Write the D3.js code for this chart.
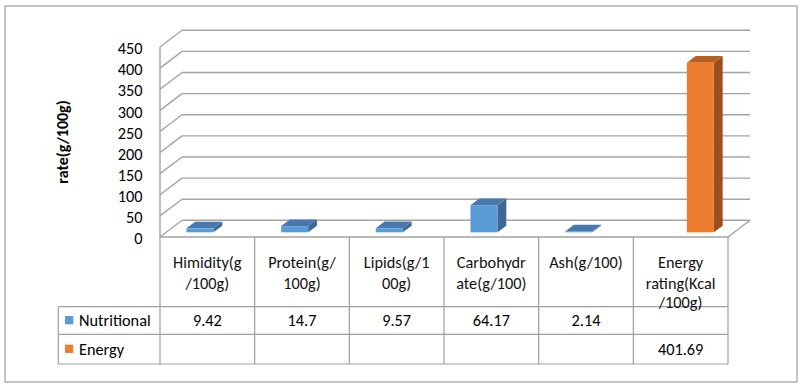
<!DOCTYPE html>
<html>
<head>
<meta charset="utf-8">
<script src="https://cdn.jsdelivr.net/npm/d3@7"></script>
<style>
  body { margin: 0; background: #fff; }
  svg { display: block; font-family: Carlito, Calibri, Lato, sans-serif; }
</style>
</head>
<body>
<svg id="chart"></svg>
<script>
// values
const categories = ["Himidity", "Protein", "Lipids", "Carbohydrate", "Ash", "Energy rating"];
const headerLines = [
    ["Himidity(g", "/100g)"],
    ["Protein(g/", "100g)"],
    ["Lipids(g/1", "00g)"],
    ["Carbohydr", "ate(g/100)"],
    ["Ash(g/100)"],
    ["Energy", "rating(Kcal", "/100g)"]
];
const seriesNames = ["Nutritional", "Energy"];
const nutritional = [9.42, 14.7, 9.57, 64.17, 2.14, null];
const energy = [null, null, null, null, null, 401.69];
const valueLabels = [
    ["9.42", "14.7", "9.57", "64.17", "2.14", ""],
    ["", "", "", "", "", "401.69"]
];
const yMax = 450;

const width = 802, height = 387;
const svg = d3.select("#chart").attr("width", width).attr("height", height);

const plot = { left: 160, right: 728, top: 47, bottom: 237 };
const depth = { dx: 22, dy: -16.7 };
const table = { left: 58.3, headerBottom: 306.7, row1: 334.3, bottom: 364 };
const fontSize = "16.3px";

const colors = [
    { front: "#5B9BD5", top: "#4878AE", side: "#3D6894" },
    { front: "#ED7D31", top: "#B95F22", side: "#9B501E" }
];
const gridColor = "#A3A3A3";
const lineColor = "#A0A0A0";

const x = d3.scaleBand().domain(categories).range([plot.left, plot.right]).padding(0);
const y = d3.scaleLinear().domain([0, yMax]).range([plot.bottom, plot.top]);
const ticks = y.ticks(10);

// outer border
svg.append("rect")
    .attr("x", 5).attr("y", 6).attr("width", 792).attr("height", 376)
    .attr("fill", "#fff").attr("stroke", "#8A8A8A").attr("stroke-width", 1);

const walls = svg.append("g").attr("fill", "none").attr("stroke", gridColor).attr("stroke-width", 1.4);

// back wall gridlines
walls.selectAll(".grid")
    .data(ticks)
    .join("line")
    .attr("x1", plot.left + depth.dx).attr("x2", plot.right + depth.dx)
    .attr("y1", d => y(d) + depth.dy).attr("y2", d => y(d) + depth.dy);

// side wall diagonals
walls.selectAll(".diag")
    .data(ticks)
    .join("line")
    .attr("x1", plot.left).attr("x2", plot.left + depth.dx)
    .attr("y1", d => y(d)).attr("y2", d => y(d) + depth.dy);

walls.append("line")
    .attr("x1", plot.left).attr("x2", plot.left)
    .attr("y1", y(yMax)).attr("y2", y(0));

// floor front + right edge
walls.append("path")
    .attr("d", `M${plot.left},${y(0)}H${plot.right}L${plot.right + depth.dx},${y(0) + depth.dy}`);

// y tick labels
svg.append("g").selectAll("text")
    .data(ticks)
    .join("text")
    .attr("x", 142.5)
    .attr("y", d => y(d) + 1.5)
    .attr("dy", "0.35em")
    .attr("text-anchor", "end")
    .attr("font-size", fontSize)
    .attr("fill", "#000")
    .text(d => d);

// y axis title
svg.append("text")
    .attr("transform", "translate(68,142) rotate(-90)")
    .attr("text-anchor", "middle")
    .attr("font-size", "16px")
    .attr("font-weight", "bold")
    .attr("fill", "#000")
    .text("rate(g/100g)");

// 3d bars
const bw = x.bandwidth() / 3.5;
const f0 = 0.28, f1 = 0.68;
const bars = [];
[nutritional, energy].forEach((vals, si) => {
    vals.forEach((v, i) => {
        if (v == null) return;
        bars.push({ si, cat: categories[i], v });
    });
});

function pts(arr) { return arr.map(p => p.join(",")).join(" "); }

const barG = svg.append("g");
bars.forEach(d => {
    const x0 = x(d.cat) + 0.75 * bw + d.si * bw, x1 = x0 + bw;
    const yb = y(0), yt = y(d.v);
    const c = colors[d.si];
    const g = barG.append("g");
    g.append("polygon")
        .attr("points", pts([[x1 + f0 * depth.dx, yt + f0 * depth.dy], [x1 + f1 * depth.dx, yt + f1 * depth.dy],
            [x1 + f1 * depth.dx, yb + f1 * depth.dy], [x1 + f0 * depth.dx, yb + f0 * depth.dy]]))
        .attr("fill", c.side);
    g.append("polygon")
        .attr("points", pts([[x0 + f0 * depth.dx, yt + f0 * depth.dy], [x1 + f0 * depth.dx, yt + f0 * depth.dy],
            [x1 + f1 * depth.dx, yt + f1 * depth.dy], [x0 + f1 * depth.dx, yt + f1 * depth.dy]]))
        .attr("fill", c.top);
    g.append("rect")
        .attr("x", x0 + f0 * depth.dx)
        .attr("y", yt + f0 * depth.dy)
        .attr("width", bw)
        .attr("height", Math.max(yb - yt, 0.8))
        .attr("fill", c.front);
});

// data table
const tg = svg.append("g").attr("stroke", lineColor).attr("stroke-width", 1.2).attr("fill", "none");
const colEdges = categories.map(c => x(c)).concat([plot.right]);
tg.selectAll(".v")
    .data(colEdges)
    .join("line")
    .attr("x1", d => d).attr("x2", d => d)
    .attr("y1", plot.bottom).attr("y2", table.bottom);
tg.append("line")
    .attr("x1", table.left).attr("x2", table.left)
    .attr("y1", table.headerBottom).attr("y2", table.bottom);
tg.selectAll(".h")
    .data([table.headerBottom, table.row1, table.bottom])
    .join("line")
    .attr("x1", table.left).attr("x2", plot.right)
    .attr("y1", d => d).attr("y2", d => d);

// header labels
const header = svg.append("g").attr("font-size", fontSize).attr("fill", "#111").attr("text-anchor", "middle");
headerLines.forEach((lines, i) => {
    const cx = x(categories[i]) + x.bandwidth() / 2;
    lines.forEach((t, j) => {
        header.append("text")
            .attr("x", cx)
            .attr("y", 262 + j * (j < 2 ? 21.6 : 20.3))
            .attr("dy", "0.35em")
            .text(t);
    });
});

// value rows
const rowY = [(table.headerBottom + table.row1) / 2, (table.row1 + table.bottom) / 2];
valueLabels.forEach((row, si) => {
    svg.append("g").selectAll("text")
        .data(row)
        .join("text")
        .attr("x", (d, i) => x(categories[i]) + x.bandwidth() / 2)
        .attr("y", rowY[si])
        .attr("dy", "0.35em")
        .attr("text-anchor", "middle")
        .attr("font-size", fontSize)
        .attr("fill", "#000")
        .text(d => d);
});

// legend keys in table
seriesNames.forEach((name, si) => {
    svg.append("rect")
        .attr("x", 65).attr("y", rowY[si] - 4.5)
        .attr("width", 8.3).attr("height", 8.3)
        .attr("fill", colors[si].front);
    svg.append("text")
        .attr("x", 79).attr("y", rowY[si])
        .attr("dy", "0.35em")
        .attr("font-size", fontSize)
        .attr("fill", "#000")
        .text(name);
});
</script>
</body>
</html>
